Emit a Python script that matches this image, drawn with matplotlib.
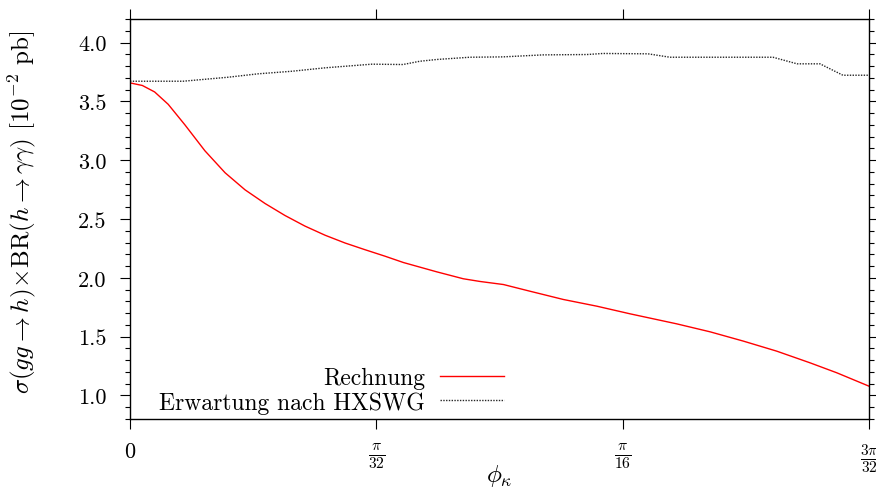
import numpy as np
import matplotlib
matplotlib.use('Agg')
import matplotlib.pyplot as plt
from matplotlib.ticker import MultipleLocator, FormatStrFormatter

plt.rcParams['font.family'] = 'serif'
plt.rcParams['font.serif'] = ['cmr10']
plt.rcParams['mathtext.fontset'] = 'cm'
plt.rcParams['axes.unicode_minus'] = False

# phi_kappa in units of pi/32
u_calc = [0.0, 0.05, 0.10, 0.155, 0.223, 0.304, 0.386, 0.467, 0.548, 0.629,
          0.710, 0.792, 0.873, 0.954, 1.035, 1.110, 1.245, 1.353, 1.421,
          1.516, 1.624, 1.759, 1.895, 2.030, 2.219, 2.355, 2.490, 2.625,
          2.760, 2.869, 3.0]
rechnung = [3.657, 3.635, 3.580, 3.475, 3.300, 3.080, 2.893, 2.748, 2.632,
            2.530, 2.440, 2.362, 2.296, 2.239, 2.184, 2.130, 2.051, 1.992,
            1.969, 1.943, 1.886, 1.816, 1.759, 1.694, 1.609, 1.541, 1.462,
            1.377, 1.278, 1.193, 1.079]

u_hx = [0.0, 0.215, 0.398, 0.520, 0.658, 0.792, 0.982, 1.108, 1.177, 1.246,
        1.380, 1.514, 1.677, 1.855, 1.920, 2.103, 2.192, 2.610, 2.708, 2.801,
        2.894, 3.0]
hxswg = [3.671, 3.671, 3.705, 3.734, 3.756, 3.785, 3.816, 3.813, 3.841, 3.856,
         3.875, 3.878, 3.895, 3.898, 3.907, 3.904, 3.875, 3.875, 3.819, 3.819,
         3.722, 3.722]

xticks = [0, np.pi / 32, np.pi / 16, 3 * np.pi / 32]
xticklabels = ['$0$', r'$\frac{\pi}{32}$', r'$\frac{\pi}{16}$', r'$\frac{3\pi}{32}$']

fig = plt.figure(figsize=(8.76, 4.89), dpi=100)
ax = fig.add_axes([130 / 876, 1 - 420 / 489, 739 / 876, 400 / 489])

ax.plot(np.array(u_calc) * np.pi / 32, rechnung, color='red', lw=1.0,
        label='Rechnung')
ax.plot(np.array(u_hx) * np.pi / 32, hxswg, color='0.15', lw=1.0,
        ls=(0, (1, 1)), label='Erwartung nach HXSWG')

ax.set_xlim(0, 3 * np.pi / 32)
ax.set_ylim(0.8, 4.2)
ax.set_xticks(xticks)
ax.set_xticklabels(xticklabels, fontsize=19)
ax.get_xticklabels()[0].set_fontsize(17)
ax.yaxis.set_major_locator(MultipleLocator(0.5))
ax.yaxis.set_minor_locator(MultipleLocator(0.1))
ax.yaxis.set_major_formatter(FormatStrFormatter('%.1f'))

ax.tick_params(which='both', direction='out', top=True, right=True,
               labelsize=16, width=0.8)
ax.tick_params(which='major', length=7)
ax.tick_params(which='minor', length=3.5)
ax.tick_params(axis='x', pad=9)
ax.tick_params(axis='y', pad=10)
for s in ax.spines.values():
    s.set_linewidth(1.0)

ax.set_xlabel(r'$\phi_\kappa$', fontsize=18)
ax.xaxis.set_label_coords(0.5, -0.108)
ax.set_ylabel(r'$\sigma(gg \rightarrow h)\!\times\!\mathrm{BR}(h \rightarrow \gamma\gamma)$ [$10^{-2}$ pb]',
              fontsize=18)
ax.yaxis.set_label_coords(-0.125, 0.52)

ax.legend(loc='lower right', bbox_to_anchor=(0.535, -0.04), frameon=False,
          markerfirst=False, fontsize=17, handlelength=2.7,
          handletextpad=0.65, labelspacing=0.1)

fig.savefig('out.png', dpi=100)
